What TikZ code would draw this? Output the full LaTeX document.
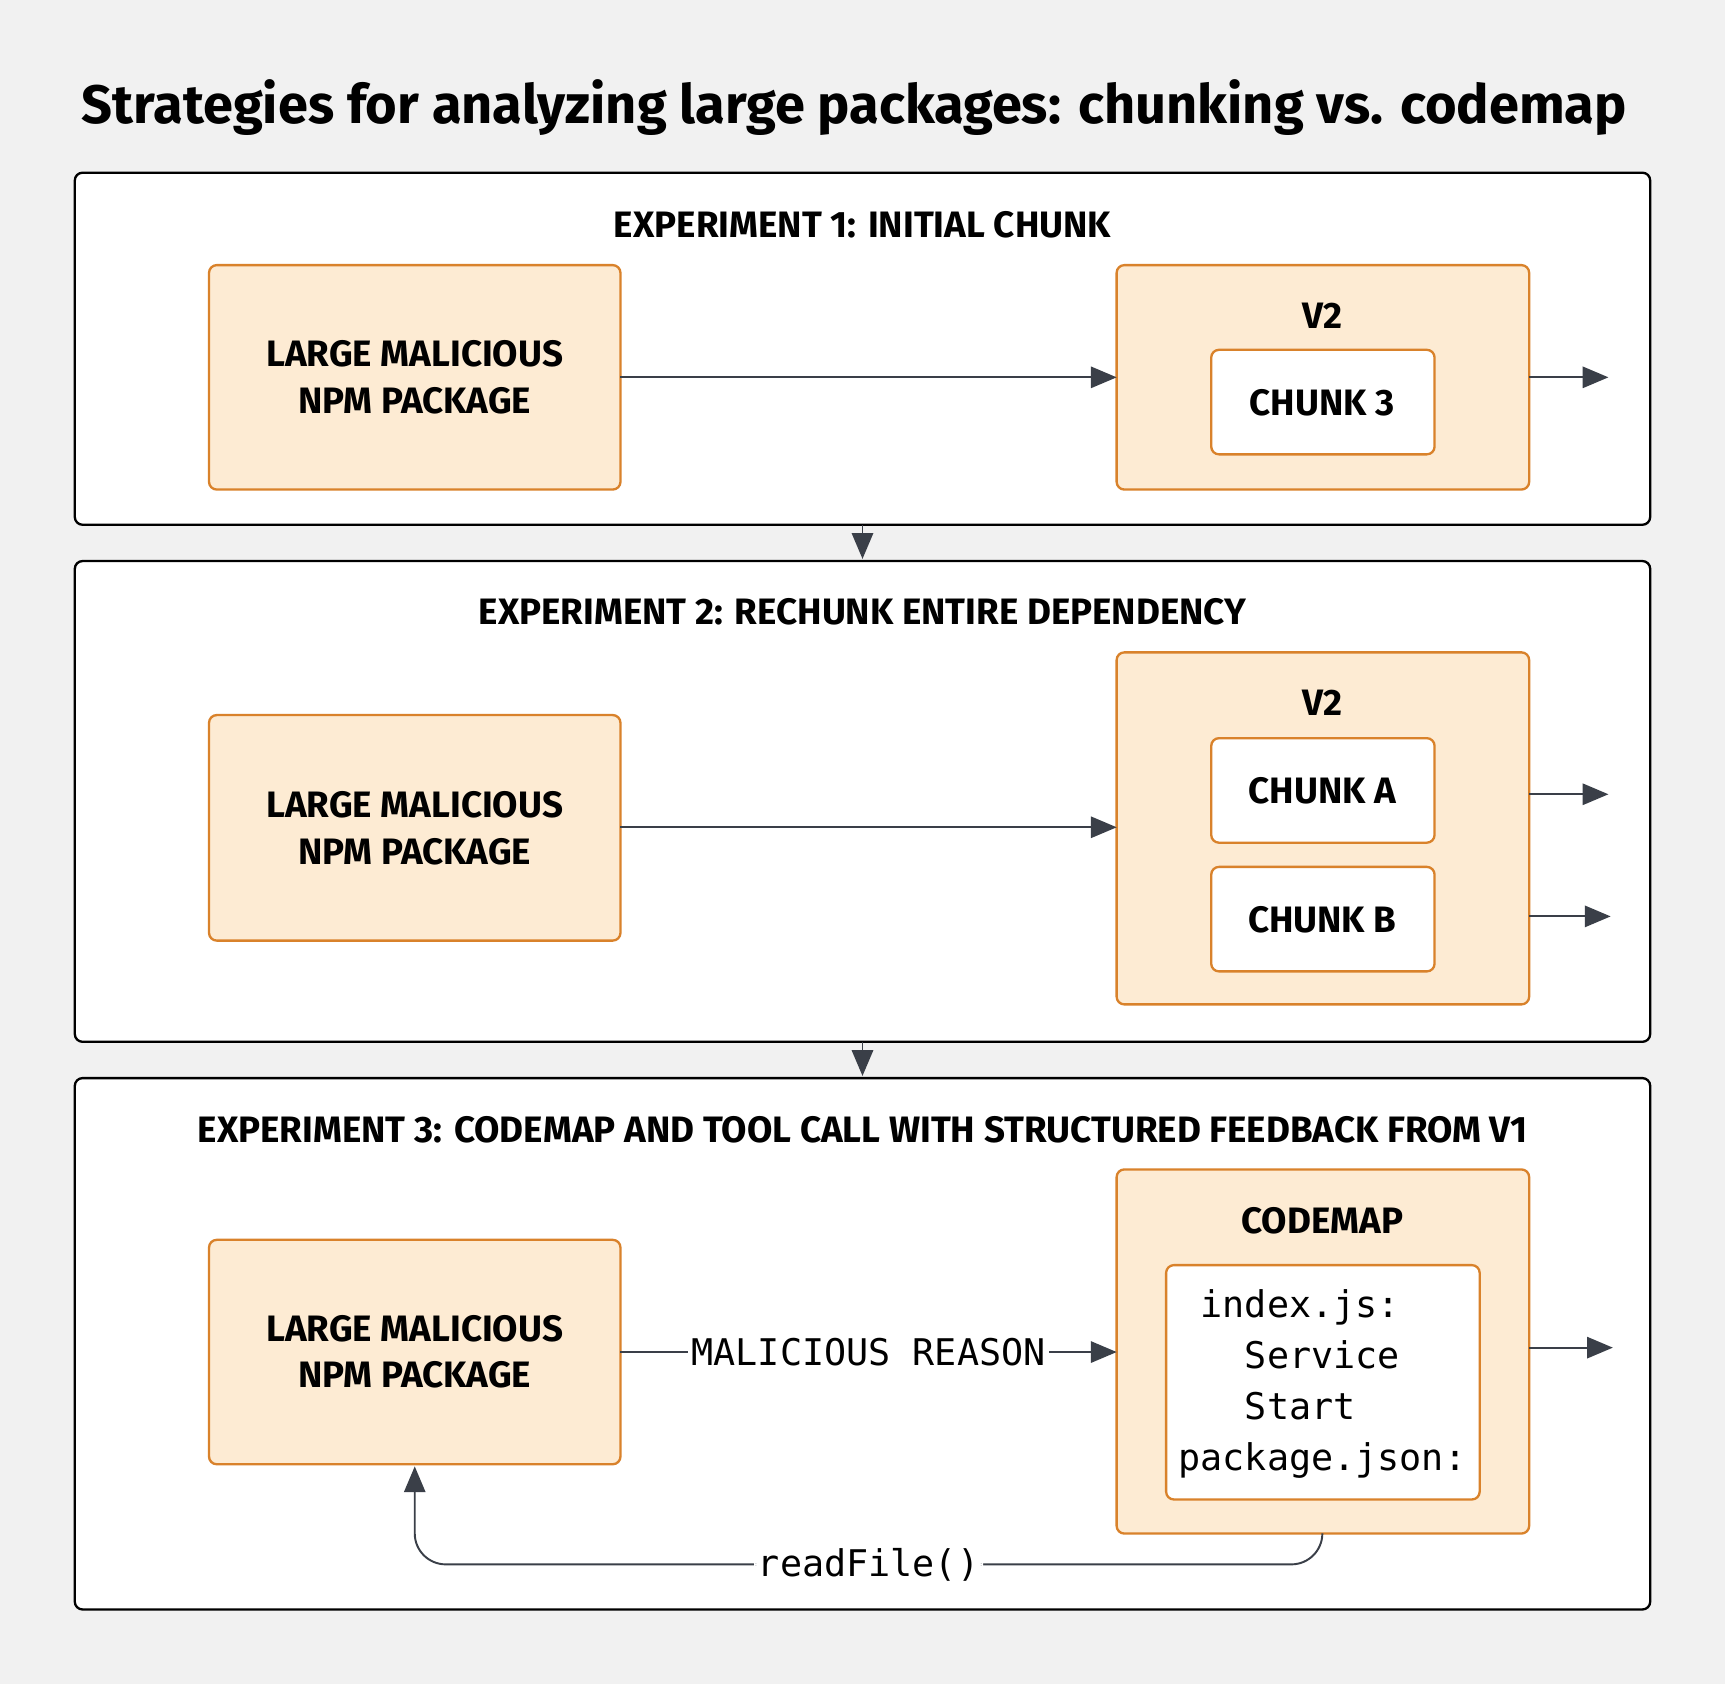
\documentclass[tikz,border=0pt]{standalone}
\usepackage{fontspec}
\setmainfont{Fira Sans}
\setmonofont{DejaVu Sans Mono}
\usetikzlibrary{arrows}
\definecolor{pkgfill}{HTML}{FDEBD3}
\definecolor{pkgdraw}{HTML}{D9822B}
\definecolor{arrcol}{HTML}{3A3F48}
\definecolor{bgcol}{HTML}{F1F1F1}
\begin{document}
\begin{tikzpicture}[
		    x=0.01cm, y=-0.01cm,
		    panel/.style={draw=black, fill=white, rounded corners=2pt, line width=0.6pt},
		    pkg/.style={draw=pkgdraw, fill=pkgfill, rounded corners=2pt, line width=0.6pt},
		    chunk/.style={draw=pkgdraw, fill=white, rounded corners=2pt, line width=0.6pt},
		    lbl/.style={font=\bfseries\fontsize{9.5}{12}\selectfont, align=center},
		    arr/.style={draw=arrcol, line width=0.5pt, -triangle 45}
		]
		\fill[bgcol] (0,0) rectangle (1568,1531);
		\node[anchor=west, font=\bfseries\fontsize{14}{17}\selectfont] (Title) at (62,98) {Strategies for analyzing large packages: chunking vs. codemap};
		% experiment 1
		\draw[panel] (68,157) rectangle (1500,477);
		\node[lbl] (Exp1) at (784,204) {EXPERIMENT 1: INITIAL CHUNK};
		\draw[pkg] (190,241) rectangle (564,445);
		\node[lbl] (PkgA) at (377,343) {LARGE MALICIOUS\\NPM PACKAGE};
		\draw[pkg] (1015,241) rectangle (1390,445);
		\node[lbl] (VA) at (1202,287) {V2};
		\draw[chunk] (1101,318) rectangle (1304,413);
		\node[lbl] (ChunkThree) at (1202,366) {CHUNK 3};
		\coordinate (PkgAE) at (564,343);
		\coordinate (VAW) at (1015,343);
		\coordinate (VAE) at (1390,343);
		\coordinate (OutA) at (1462,343);
		\draw[arr] (PkgAE) -- (VAW);
		\draw[arr] (VAE) -- (OutA);
		% experiment 2
		\draw[panel] (68,510) rectangle (1500,947);
		\node[lbl] (Exp2) at (784,556) {EXPERIMENT 2: RECHUNK ENTIRE DEPENDENCY};
		\draw[pkg] (190,650) rectangle (564,855);
		\node[lbl] (PkgB) at (377,753) {LARGE MALICIOUS\\NPM PACKAGE};
		\draw[pkg] (1015,593) rectangle (1390,913);
		\node[lbl] (VB) at (1202,639) {V2};
		\draw[chunk] (1101,671) rectangle (1304,766);
		\node[lbl] (ChunkA) at (1202,719) {CHUNK A};
		\draw[chunk] (1101,788) rectangle (1304,883);
		\node[lbl] (ChunkB) at (1202,836) {CHUNK B};
		\coordinate (PkgBE) at (564,752);
		\coordinate (VBW) at (1015,752);
		\draw[arr] (PkgBE) -- (VBW);
		\coordinate (VBA) at (1390,722);
		\coordinate (OutBA) at (1462,722);
		\coordinate (VBB) at (1390,833);
		\coordinate (OutBB) at (1464,833);
		\draw[arr] (VBA) -- (OutBA);
		\draw[arr] (VBB) -- (OutBB);
		% experiment 3
		\draw[panel] (68,980) rectangle (1500,1463);
		\node[lbl] (Exp3) at (784,1027) {EXPERIMENT 3: CODEMAP AND TOOL CALL WITH STRUCTURED FEEDBACK FROM V1};
		\draw[pkg] (190,1127) rectangle (564,1331);
		\node[lbl] (PkgC) at (377,1229) {LARGE MALICIOUS\\NPM PACKAGE};
		\draw[pkg] (1015,1063) rectangle (1390,1394);
		\node[lbl] (Codemap) at (1202,1110) {CODEMAP};
		\draw[chunk] (1060,1150) rectangle (1345,1363);
		\node[font=\ttfamily\fontsize{9.5}{13.2}\selectfont, align=left] (MapText) at (1202,1258) {\ index.js:\\\ \ \ Service\\\ \ \ Start\\package.json:};
		\coordinate (PkgCE) at (564,1229);
		\coordinate (VCW) at (1015,1229);
		\draw[arr] (PkgCE) -- node[fill=white, inner sep=1pt, font=\ttfamily\fontsize{9.5}{12}\selectfont] (Reason) {MALICIOUS REASON} (VCW);
		\coordinate (VCE) at (1390,1225);
		\coordinate (OutC) at (1466,1225);
		\draw[arr] (VCE) -- (OutC);
		\coordinate (VCS) at (1202,1394);
		\coordinate (PkgCS) at (377,1333);
		\draw[arr, rounded corners=8pt] (VCS) -- (1202,1422) -- node[fill=white, inner sep=1pt, font=\ttfamily\fontsize{9.5}{12}\selectfont] (Read) {readFile()} (377,1422) -- (PkgCS);
		% between panels
		\coordinate (PA) at (784,477);
		\coordinate (PB) at (784,508);
		\coordinate (PC) at (784,947);
		\coordinate (PD) at (784,978);
		\draw[arr] (PA) -- (PB);
		\draw[arr] (PC) -- (PD);
	\end{tikzpicture}
\end{document}
